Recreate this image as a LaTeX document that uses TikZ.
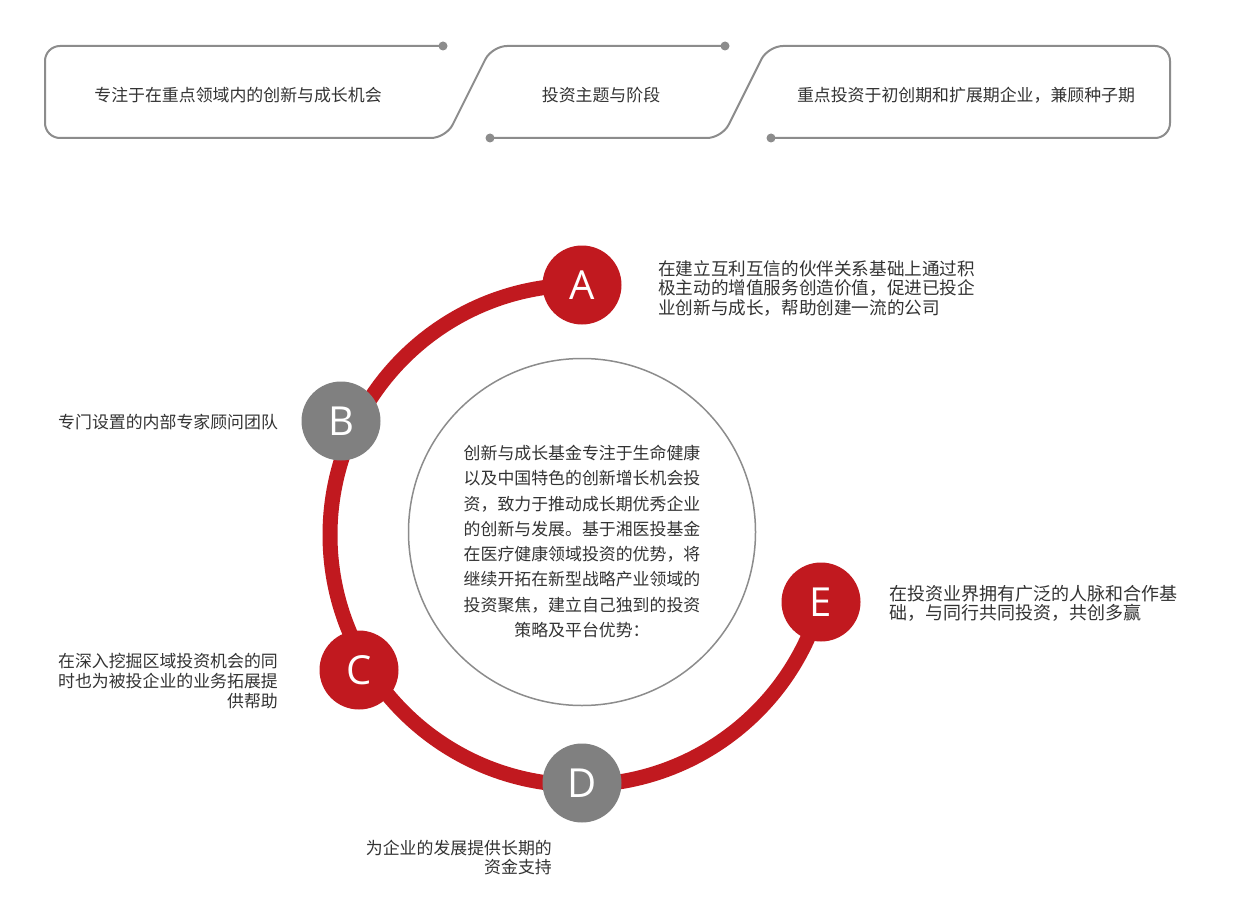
\documentclass[tikz,border=0pt]{standalone}
\usepackage{fontspec}
\newfontfamily\cjk{Noto Sans CJK SC}
\newfontfamily\lat{Open Sans}
\definecolor{ringred}{HTML}{C1191F}
\definecolor{badgegray}{HTML}{808080}
\definecolor{linegray}{HTML}{8C8C8C}
\definecolor{txtc}{HTML}{333333}
\begin{document}
\begin{tikzpicture}[x=1pt,y=-1pt,
  txt/.style={font=\cjk\fontsize{16.9}{20}\selectfont, text=txtc, inner sep=0pt},
  badge/.style={circle, minimum size=79pt, inner sep=0pt, font=\lat\fontsize{40}{40}\selectfont, text=white},
  frame/.style={draw=linegray, line width=2pt, rounded corners=15pt},
  enddot/.style={circle, fill=linegray, inner sep=0pt, minimum size=9pt}]
\useasboundingbox (0,0) rectangle (1246,909);
\fill[white] (0,0) rectangle (1246,909);
% top frames
\coordinate (p1) at (443,46);
\coordinate (p2) at (725,46);
\coordinate (p3) at (490,138);
\coordinate (p4) at (771,138);
\draw[frame] (p1) -- (45,46) -- (45,138) -- (446,138) -- (492,46) -- (p2);
\draw[frame] (p3) -- (722,138) -- (768,46) -- (1170,46) -- (1170,138) -- (p4);
\node[enddot] (d1) at (p1) {};
\node[enddot] (d2) at (p2) {};
\node[enddot] (d3) at (p3) {};
\node[enddot] (d4) at (p4) {};
\node[txt] (t1) at (238,95) {专注于在重点领域内的创新与成长机会};
\node[txt] (t2) at (601,95) {投资主题与阶段};
\node[txt] (t3) at (966,95) {重点投资于初创期和扩展期企业，兼顾种子期};
% ring
\coordinate (O) at (580,535);
\draw[ringred, line width=15pt] (O) ++(-90:250) arc[start angle=-90, end angle=-345, radius=250];
% core circle
\node[circle, draw=linegray, line width=1.5pt, minimum size=347pt, inner sep=0pt] (core) at (582,532) {};
\node[txt, font=\cjk\fontsize{16.9}{25.3}\selectfont, align=center] (coretext) at (582,541.5)
 {创新与成长基金专注于生命健康\\以及中国特色的创新增长机会投\\资，致力于推动成长期优秀企业\\的创新与发展。基于湘医投基金\\在医疗健康领域投资的优势，将\\继续开拓在新型战略产业领域的\\投资聚焦，建立自己独到的投资\\策略及平台优势：};
% badges
\node[badge, fill=ringred] (A) at (582,285) {A};
\node[badge, fill=badgegray] (B) at (341,421) {B};
\node[badge, fill=ringred] (C) at (359,670) {C};
\node[badge, fill=badgegray] (D) at (582,783) {D};
\node[badge, fill=ringred] (E) at (821,602) {E};
% descriptions
\node[txt, font=\cjk\fontsize{17.6}{19.5}\selectfont, anchor=west, align=left] (ta) at (658,288)
 {在建立互利互信的伙伴关系基础上通过积\\极主动的增值服务创造价值，促进已投企\\业创新与成长，帮助创建一流的公司};
\node[txt, anchor=west] (tb) at (58,422) {专门设置的内部专家顾问团队};
\node[txt, font=\cjk\fontsize{16.9}{20}\selectfont, anchor=east, align=right] (tc) at (278,681)
 {在深入挖掘区域投资机会的同\\时也为被投企业的业务拓展提\\供帮助};
\node[txt, font=\cjk\fontsize{16.9}{19}\selectfont, anchor=east, align=right] (td) at (552,857.5)
 {为企业的发展提供长期的\\资金支持};
\node[txt, font=\cjk\fontsize{18}{19}\selectfont, anchor=west, align=left] (te) at (889,603.5)
 {在投资业界拥有广泛的人脉和合作基\\础，与同行共同投资，共创多赢};
\end{tikzpicture}
\end{document}
